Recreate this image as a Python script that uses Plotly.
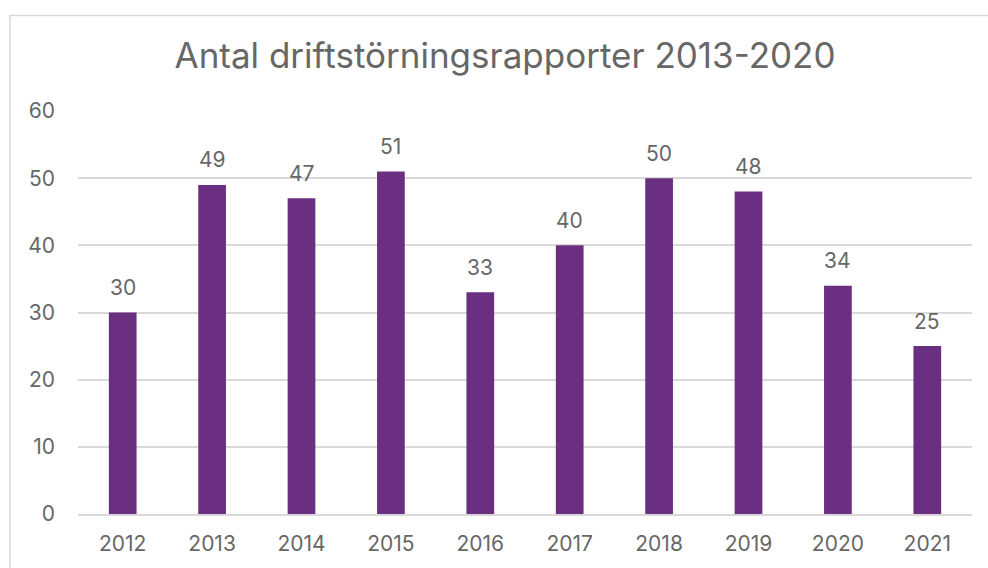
import plotly.graph_objects as go

years = ["2012", "2013", "2014", "2015", "2016", "2017", "2018", "2019", "2020", "2021"]
reports = [30, 49, 47, 51, 33, 40, 50, 48, 34, 25]
y_ticks = [0, 10, 20, 30, 40, 50, 60]

text_color = "#676767"
bar_color = "#6B2F82"
grid_color = "#D9D9D9"
font_family = "Inter, Liberation Sans, Arial, sans-serif"

fig = go.Figure(
    go.Bar(
        x=years,
        y=reports,
        marker=dict(color=bar_color, line=dict(width=0)),
        hoverinfo="x+y",
    )
)

# value labels above each bar (positioned by category index)
for i, v in enumerate(reports):
    fig.add_annotation(
        x=i,
        y=v,
        xref="x",
        yref="y",
        text=str(v),
        showarrow=False,
        yanchor="middle",
        yshift=25,
        font=dict(size=21, color=text_color, family=font_family),
    )

fig.update_layout(
    width=988,
    height=568,
    margin=dict(l=78, r=16, t=111, b=52),
    paper_bgcolor="white",
    plot_bgcolor="white",
    bargap=0.69,
    showlegend=False,
    title=dict(
        text="Antal driftstörningsrapporter 2013-2020",
        x=505 / 988,
        xanchor="center",
        y=1 - 56 / 568,
        yanchor="middle",
        font=dict(size=35, color=text_color, family=font_family),
    ),
    xaxis=dict(
        type="category",
        range=[-0.5, len(years) - 0.5],
        showgrid=False,
        showline=True,
        linecolor=grid_color,
        linewidth=1.5,
        ticks="",
        ticklabelstandoff=10,
        tickfont=dict(size=21, color=text_color, family=font_family),
    ),
    yaxis=dict(
        range=[0, 60],
        tickvals=y_ticks,
        showgrid=True,
        gridcolor=grid_color,
        gridwidth=1.5,
        zeroline=False,
        showline=False,
        ticks="",
        ticklabelstandoff=22,
        tickfont=dict(size=21, color=text_color, family=font_family),
    ),
    shapes=[
        dict(
            type="rect",
            xref="paper",
            yref="paper",
            x0=(10 - 78) / 894,
            x1=1.1,
            y0=-0.3,
            y1=1 + (111 - 15) / 405,
            line=dict(color=grid_color, width=1.5),
            fillcolor="rgba(0,0,0,0)",
            layer="below",
        )
    ],
)

fig.write_html("out.html")
